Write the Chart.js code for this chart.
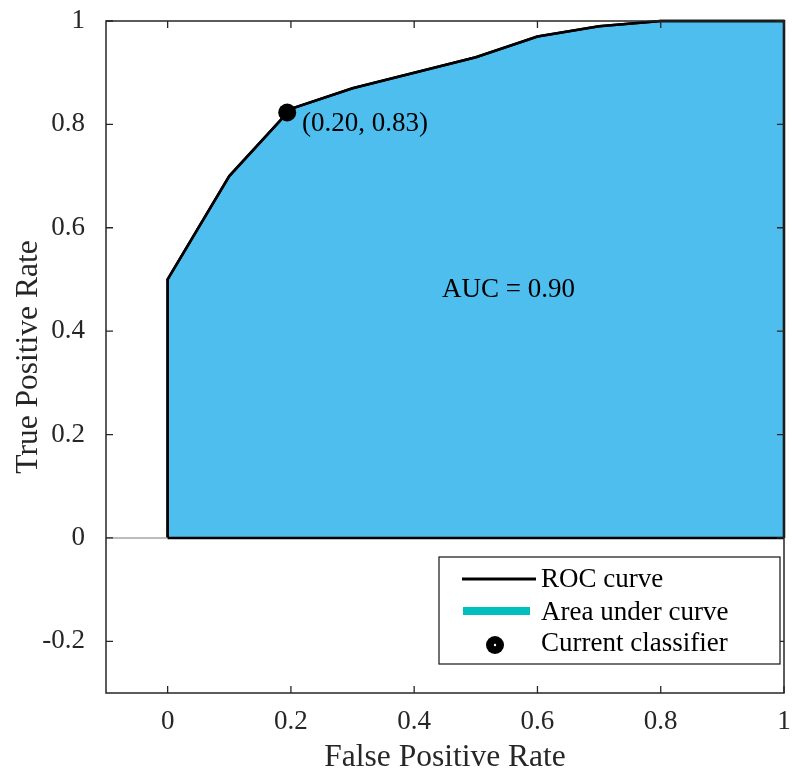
<!DOCTYPE html>
<html>
<head>
<meta charset="utf-8">
<script src="https://cdn.jsdelivr.net/npm/chart.js@4.4.1/dist/chart.umd.min.js"></script>
<style>
  html, body { margin: 0; padding: 0; background: #fff; }
  canvas { display: block; }
</style>
</head>
<body>
<canvas id="roc-chart" width="793" height="775"></canvas>
<script>
// ROC curve data
const rocFpr = [0, 0, 0.1, 0.2, 0.3, 0.4, 0.5, 0.6, 0.7, 0.8, 1];
const rocTpr = [0, 0.5, 0.7, 0.83, 0.87, 0.9, 0.93, 0.97, 0.99, 1, 1];

// current classifier operating point
const classifierFpr = [0.194];
const classifierTpr = [0.823];

// axis ticks
const xTicks = [0, 0.2, 0.4, 0.6, 0.8, 1];
const yTicks = [-0.2, 0, 0.2, 0.4, 0.6, 0.8, 1];

const serif = "'Liberation Serif', 'Times New Roman', serif";
const axisColor = '#262626';
const fillColor = '#4DBEEE';
const legendAreaColor = '#00BFBF';

Chart.defaults.font.family = serif;
Chart.defaults.color = axisColor;

// build point lists for the library
let rocPoints = rocFpr.map((x, i) => ({x: x, y: rocTpr[i]}));
// area drops down to the x axis at fpr = 1
let areaPoints = rocPoints.concat([{x: 1, y: 0}]);
let classifierPoints = classifierFpr.map((x, i) => ({x: x, y: classifierTpr[i]}));
// zero line, gray left of the area, black edge under it
let baselinePoints = [{x: -0.1, y: 0}, {x: 0, y: 0}, {x: 1, y: 0}];

//text annotations in data coordinates
const annotations = [
    {x: 0.218, y: 0.80, text: '(0.20, 0.83)'},
    {x: 0.445, y: 0.48, text: 'AUC = 0.90'}
];

//axes box + inward ticks (matlab style)
const boxPlugin = {
    id: 'boxAxes',
    afterDatasetsDraw(chart) {
        const ctx = chart.ctx;
        const a = chart.chartArea;
        const xs = chart.scales.x, ys = chart.scales.y;
        const tick = 7;
        ctx.save();
        ctx.strokeStyle = axisColor;
        ctx.lineWidth = 1.3;
        ctx.beginPath();
        xTicks.forEach(v => {
            const px = xs.getPixelForValue(v);
            ctx.moveTo(px, a.bottom); ctx.lineTo(px, a.bottom - tick);
            ctx.moveTo(px, a.top); ctx.lineTo(px, a.top + tick);
        });
        yTicks.forEach(v => {
            const py = ys.getPixelForValue(v);
            ctx.moveTo(a.left, py); ctx.lineTo(a.left + tick, py);
            ctx.moveTo(a.right, py); ctx.lineTo(a.right - tick, py);
        });
        ctx.stroke();
        ctx.lineWidth = 1.5;
        ctx.strokeRect(a.left, a.top, a.right - a.left, a.bottom - a.top);
        ctx.restore();
    }
};

const textPlugin = {
    id: 'textLabels',
    afterDraw(chart) {
        const ctx = chart.ctx;
        ctx.save();
        ctx.font = '27px ' + serif;
        ctx.fillStyle = '#000';
        ctx.textAlign = 'left';
        ctx.textBaseline = 'middle';
        annotations.forEach(t => {
            ctx.fillText(t.text, chart.scales.x.getPixelForValue(t.x), chart.scales.y.getPixelForValue(t.y));
        });
        ctx.restore();
    }
};

// legend box in the lower right corner
const legendPlugin = {
    id: 'rocLegend',
    afterDraw(chart) {
        const ctx = chart.ctx;
        const a = chart.chartArea;
        const left = a.right - 345, top = a.bottom - 136;
        const w = 341, h = 107;
        const ds = chart.data.datasets;
        ctx.save();
        ctx.fillStyle = '#fff';
        ctx.fillRect(left, top, w, h);
        ctx.strokeStyle = axisColor;
        ctx.lineWidth = 1.3;
        ctx.strokeRect(left, top, w, h);

        // ROC curve
        ctx.strokeStyle = ds[1].borderColor;
        ctx.lineWidth = 3;
        ctx.beginPath();
        ctx.moveTo(left + 23, top + 22);
        ctx.lineTo(left + 97, top + 22);
        ctx.stroke();

        // area
        ctx.strokeStyle = legendAreaColor;
        ctx.lineWidth = 8;
        ctx.beginPath();
        ctx.moveTo(left + 24, top + 54);
        ctx.lineTo(left + 91, top + 54);
        ctx.stroke();

        // classifier marker
        ctx.fillStyle = '#000';
        ctx.beginPath();
        ctx.arc(left + 56, top + 88, 9, 0, Math.PI * 2);
        ctx.fill();
        ctx.fillStyle = '#fff';
        ctx.beginPath();
        ctx.arc(left + 56, top + 88, 1.2, 0, Math.PI * 2);
        ctx.fill();

        ctx.fillStyle = '#000';
        ctx.font = '27px ' + serif;
        ctx.textAlign = 'left';
        ctx.textBaseline = 'middle';
        ctx.fillText(ds[1].label, left + 102, top + 23);
        ctx.fillText(ds[2].label, left + 102, top + 56);
        ctx.fillText(ds[0].label, left + 102, top + 87);
        ctx.restore();
    }
};

const rocCanvas = document.getElementById('roc-chart');
let rocChart = new Chart(rocCanvas, {
    type: 'scatter',
    data: {
        datasets: [{
            label: 'Current classifier',
            data: classifierPoints,
            pointRadius: 9,
            pointBackgroundColor: '#000',
            pointBorderWidth: 0,
            clip: false,
            order: 0
        }, {
            label: 'ROC curve',
            data: rocPoints,
            showLine: true,
            borderColor: '#000',
            borderWidth: 2.5,
            pointRadius: 0,
            fill: false,
            clip: 4,
            order: 1
        }, {
            label: 'Area under curve',
            data: areaPoints,
            showLine: true,
            borderColor: '#000',
            borderWidth: 2.5,
            backgroundColor: fillColor,
            pointRadius: 0,
            fill: 'origin',
            clip: 4,
            order: 2
        }, {
            label: 'baseline',
            data: baselinePoints,
            showLine: true,
            borderColor: '#000',
            borderWidth: 2.5,
            segment: {
                borderColor: c => c.p1.parsed.x <= 0 ? '#a6a6a6' : '#000',
                borderWidth: c => c.p1.parsed.x <= 0 ? 1.5 : 2.5
            },
            pointRadius: 0,
            fill: false,
            clip: 4,
            order: 0.5
        }]
    },
    options: {
        responsive: false,
        devicePixelRatio: 1,
        animation: false,
        layout: {
            padding: {top: 21, right: 5, left: 0, bottom: 0}
        },
        scales: {
            x: {
                type: 'linear',
                min: -0.1,
                max: 1,
                afterBuildTicks: scale => { scale.ticks = xTicks.map(v => ({value: v})); },
                afterFit: scale => {
                    scale.height = 82;
                    scale.paddingLeft = 0;
                    scale.paddingRight = 0;
                },
                grid: {display: false},
                border: {display: false},
                ticks: {
                    font: {size: 27},
                    padding: 5,
                    maxRotation: 0,
                    callback: v => String(Math.round(v * 10) / 10)
                },
                title: {
                    display: true,
                    text: 'False Positive Rate',
                    font: {size: 31.5, lineHeight: 1.1},
                    padding: {top: 0, bottom: 0}
                }
            },
            y: {
                type: 'linear',
                min: -0.3,
                max: 1,
                afterBuildTicks: scale => { scale.ticks = yTicks.map(v => ({value: v})); },
                afterFit: scale => {
                    scale.width = 106;
                    scale.paddingTop = 0;
                    scale.paddingBottom = 0;
                },
                grid: {display: false},
                border: {display: false},
                ticks: {
                    font: {size: 27},
                    padding: 13,
                    callback: v => String(Math.round(v * 10) / 10)
                },
                title: {
                    display: true,
                    text: 'True Positive Rate',
                    font: {size: 31.5, lineHeight: 1.2},
                    padding: {top: 10, bottom: 0}
                }
            }
        },
        plugins: {
            legend: {display: false},
            tooltip: {enabled: false}
        }
    },
    plugins: [boxPlugin, textPlugin, legendPlugin]
});
</script>
</body>
</html>
